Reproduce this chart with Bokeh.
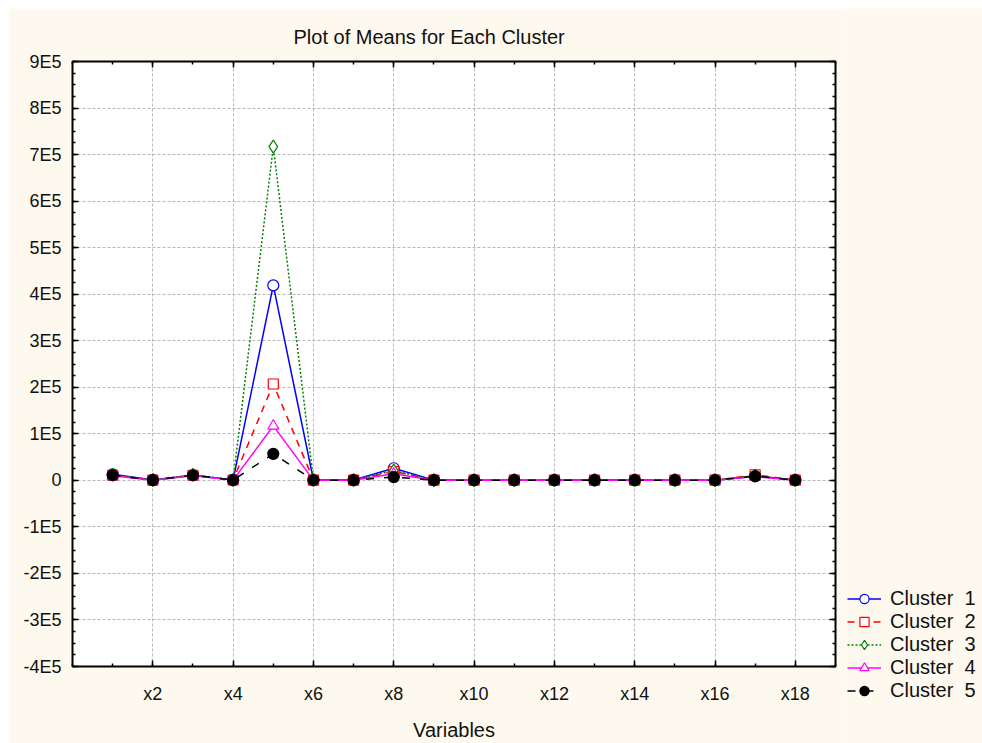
from bokeh.plotting import figure
from bokeh.models import (FixedTicker, LinearAxis, Legend, LegendItem, Range1d, Spacer)
from bokeh.layouts import row, column
from bokeh.embed import file_html
from bokeh.resources import INLINE
import numpy as np

# ---------------- data ----------------
variables = ["x1", "x2", "x3", "x4", "x5", "x6", "x7", "x8", "x9", "x10",
             "x11", "x12", "x13", "x14", "x15", "x16", "x17", "x18"]
x_tick_labels = ["x2", "x4", "x6", "x8", "x10", "x12", "x14", "x16", "x18"]

y_tick_values = [-400000, -300000, -200000, -100000, 0, 100000, 200000,
                 300000, 400000, 500000, 600000, 700000, 800000, 900000]
y_tick_labels = ["-4E5", "-3E5", "-2E5", "-1E5", "0", "1E5", "2E5",
                 "3E5", "4E5", "5E5", "6E5", "7E5", "8E5", "9E5"]

cluster_names = ["Cluster  1", "Cluster  2", "Cluster  3", "Cluster  4", "Cluster  5"]

cluster1 = [13000, 800, 11000, 900, 419000, 700, 600, 26000, 500, 400,
            400, 400, 500, 400, 400, 400, 9000, 500]
cluster2 = [11000, 600, 11000, 700, 207000, 500, 500, 19000, 400, 300,
            300, 300, 400, 300, 300, 300, 12000, 400]
cluster3 = [12000, 900, 12000, 800, 717000, 800, 700, 21000, 600, 400,
            400, 400, 500, 500, 400, 400, 10000, 500]
cluster4 = [10000, 400, 10000, 500, 117000, 400, 400, 14000, 300, 300,
            300, 300, 300, 300, 300, 300, 8000, 300]
cluster5 = [11000, 500, 11000, 600, 57000, 500, 400, 7000, 400, 300,
            300, 300, 300, 300, 300, 300, 9000, 400]

series = [cluster1, cluster2, cluster3, cluster4, cluster5]

# ---------------- styles ----------------
colors = ["#0000FF", "#FF0000", "#008000", "#FF00FF", "#000000"]
dashes = ["solid", "7 6", "2 2", "solid", "8 10"]
markers = ["circle", "square", "diamond", "triangle", "circle"]
msizes = [11, 10, 13, 11, 11]
fills = ["white", "white", "white", "white", "black"]

FONT = "Liberation Sans"
CREAM = "#FEF9EE"
TXT = "#111111"

xs = list(range(1, len(variables) + 1))

# ---------------- main chart ----------------
p = figure(width=837, height=735, output_backend="svg", toolbar_location=None,
           x_range=Range1d(0, len(variables) + 1),
           y_range=Range1d(y_tick_values[0], y_tick_values[-1]),
           min_border_left=64, min_border_right=10,
           min_border_top=53, min_border_bottom=75)

p.background_fill_color = "white"
p.border_fill_color = CREAM
p.outline_line_color = "black"
p.outline_line_width = 2

p.title.text = "Plot of Means for Each Cluster"
p.title.text_font = FONT
p.title.text_font_size = "20px"
p.title.text_font_style = "normal"
p.title.text_color = TXT
p.title.align = "left"
p.title.offset = 221
p.title.standoff = 27

# tickers
x_major = [variables.index(t) + 1 for t in x_tick_labels]
x_minor = list(range(0, len(variables) + 2))
xticker = FixedTicker(ticks=x_major, minor_ticks=x_minor)
y_minor = list(np.arange(y_tick_values[0], y_tick_values[-1] + 1, 25000))
yticker = FixedTicker(ticks=y_tick_values, minor_ticks=y_minor)

def style_axis(ax):
    ax.axis_line_color = None
    ax.major_tick_line_color = "black"
    ax.minor_tick_line_color = "black"
    ax.major_tick_line_width = 1.5
    ax.minor_tick_line_width = 1.5
    ax.major_tick_in = 6
    ax.major_tick_out = 0
    ax.minor_tick_in = 3
    ax.minor_tick_out = 0
    ax.major_label_text_font = FONT
    ax.major_label_text_color = TXT
    ax.major_label_text_font_size = "18px"

xa = p.xaxis[0]
xa.ticker = xticker
xa.major_label_overrides = {v: t for v, t in zip(x_major, x_tick_labels)}
style_axis(xa)
xa.major_label_standoff = 17
xa.axis_label = "Variables"
xa.axis_label_text_font = FONT
xa.axis_label_text_font_size = "20px"
xa.axis_label_text_font_style = "normal"
xa.axis_label_text_color = TXT
xa.axis_label_standoff = 12

ya = p.yaxis[0]
ya.ticker = yticker
ya.major_label_overrides = {v: t for v, t in zip(y_tick_values, y_tick_labels)}
style_axis(ya)
ya.major_label_standoff = 11

# tick-only axes on the right and top (no labels)
ra = LinearAxis(ticker=yticker)
style_axis(ra)
ra.major_label_overrides = {v: "" for v in y_tick_values}
ra.major_label_text_font_size = "1px"
ra.major_label_standoff = 0
p.add_layout(ra, "right")

ta = LinearAxis(ticker=xticker)
style_axis(ta)
ta.major_label_overrides = {v: "" for v in x_major}
ta.major_label_text_font_size = "1px"
ta.major_label_standoff = 0
p.add_layout(ta, "above")

p.xgrid.ticker = xticker
p.ygrid.ticker = yticker
for g in (p.xgrid[0], p.ygrid[0]):
    g.grid_line_color = "#B8B8B8"
    g.grid_line_dash = "3 2"
    g.grid_line_width = 1

for ys, c, d, m, s, f in zip(series, colors, dashes, markers, msizes, fills):
    p.line(xs, ys, line_color=c, line_width=1.5, line_dash=d)
    p.scatter(xs, ys, marker=m, size=s, line_color=c, line_width=1.2, fill_color=f)

# ---------------- legend panel ----------------
# A narrow companion figure that only shows the legend; its renderers carry the
# same series, but its ranges keep them out of view, so only the legend shows.
q = figure(width=137, height=735, output_backend="svg", toolbar_location=None,
           x_axis_type=None, y_axis_type=None, min_border=0,
           x_range=Range1d(-3, -2), y_range=Range1d(-3, -2))
q.background_fill_color = CREAM
q.border_fill_color = CREAM
q.outline_line_color = None
q.grid.visible = False
if "frame_align" in q.properties():
    q.frame_align = False

items = []
for name, ys, c, d, m, s, f in zip(cluster_names, series, colors, dashes,
                                   markers, msizes, fills):
    lr = q.line(xs, ys, line_color=c, line_width=1.5, line_dash=d)
    mr = q.scatter(xs, ys, marker=m, size=s, line_color=c, line_width=1.2, fill_color=f)
    items.append(LegendItem(label=name, renderers=[lr, mr]))

legend = Legend(items=items, location=(2, 41))
legend.glyph_width = 34
legend.glyph_height = 23
legend.spacing = 0
legend.padding = 0
legend.margin = 0
legend.label_standoff = 9
legend.label_text_font = FONT
legend.label_text_font_size = "20px"
legend.label_text_color = TXT
legend.label_height = 23
legend.border_line_color = None
legend.background_fill_alpha = 0
q.add_layout(legend, "center")

layout = column(Spacer(width=982, height=8),
                row(Spacer(width=8, height=735), p, q))
open("out.html", "w").write(file_html(layout, INLINE))
